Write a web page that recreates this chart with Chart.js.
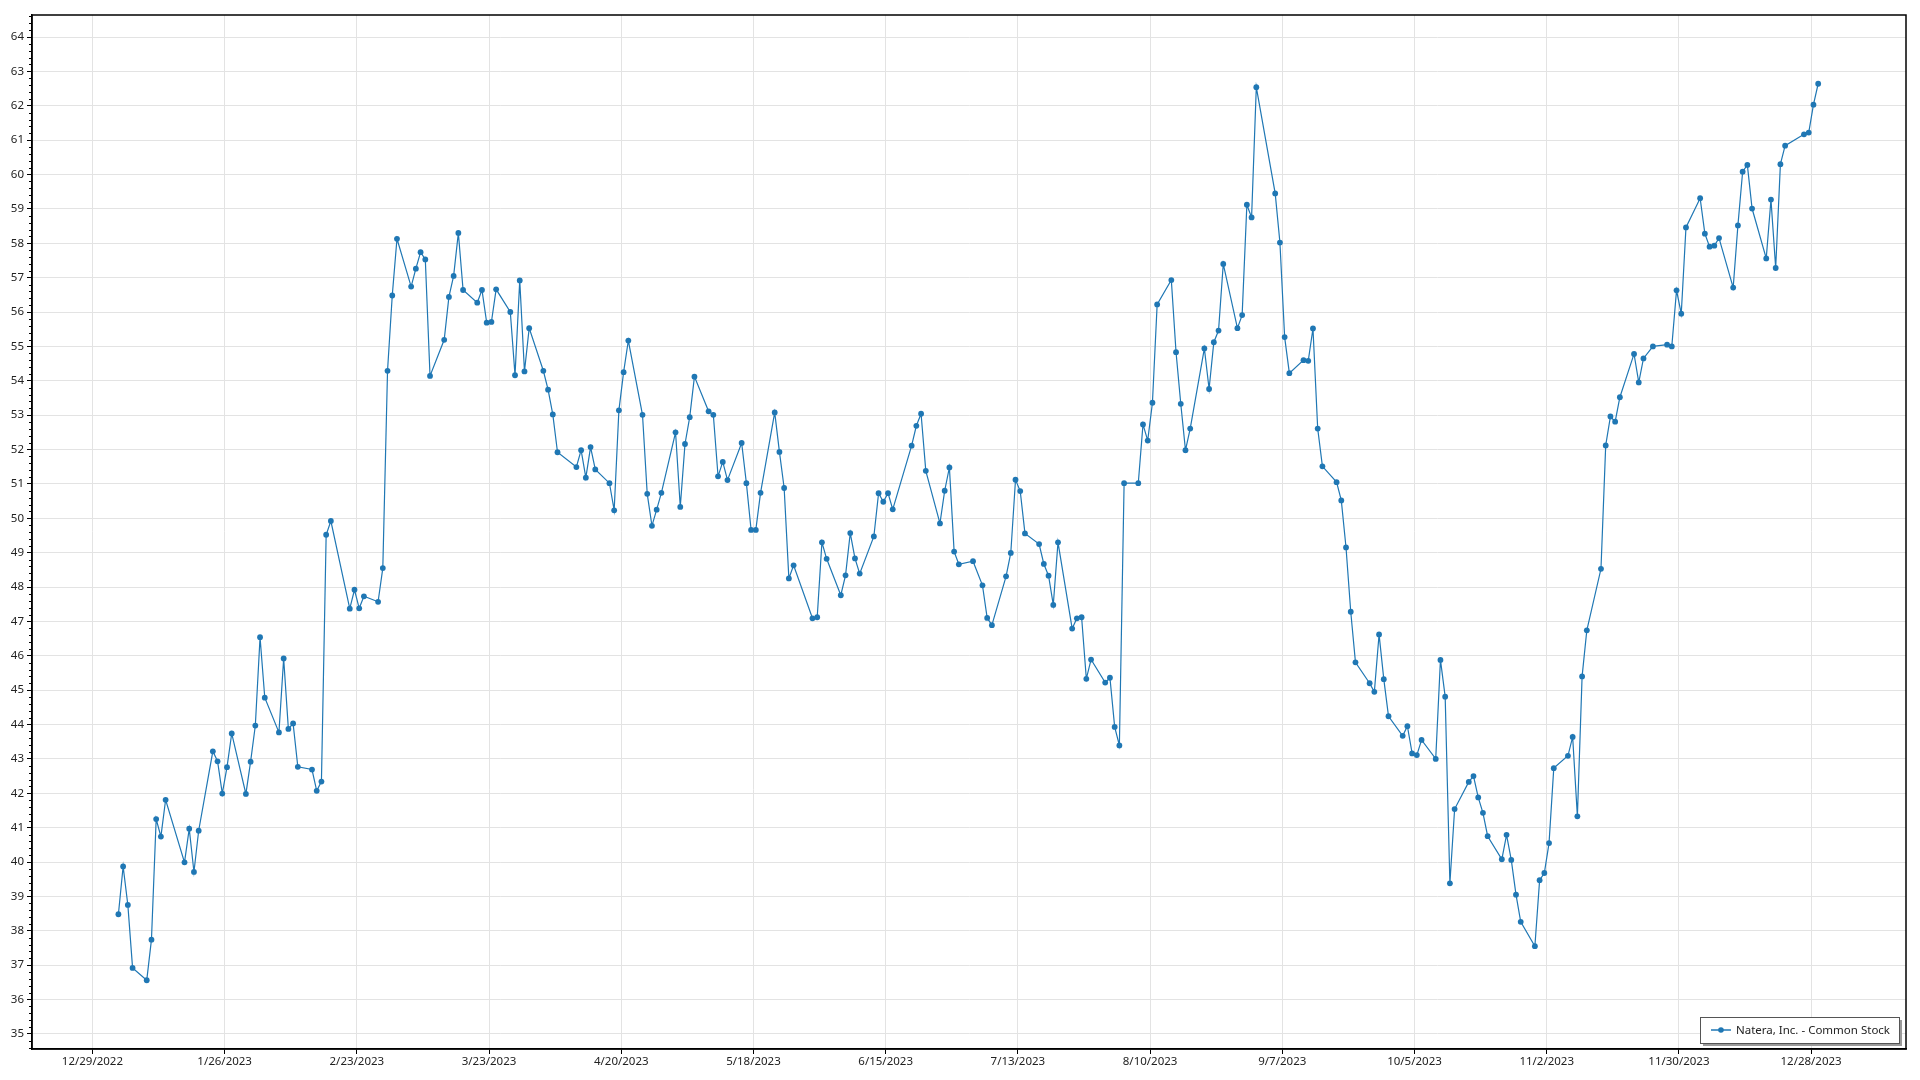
<!DOCTYPE html>
<html><head><meta charset="utf-8">
<script src="https://cdn.jsdelivr.net/npm/chart.js@4.4.1/dist/chart.umd.min.js"></script>
<style>html,body{margin:0;padding:0;background:#fff;overflow:hidden}canvas{display:block}</style>
</head><body>
<canvas id="c" width="1920" height="1080"></canvas>
<script>
const seriesName = "Natera, Inc. - Common Stock";

const dates = [
"2023-01-03","2023-01-04","2023-01-05","2023-01-06","2023-01-09","2023-01-10","2023-01-11","2023-01-12","2023-01-13","2023-01-17","2023-01-18","2023-01-19","2023-01-20","2023-01-23","2023-01-24","2023-01-25","2023-01-26","2023-01-27","2023-01-30","2023-01-31",
"2023-02-01","2023-02-02","2023-02-03","2023-02-06","2023-02-07","2023-02-08","2023-02-09","2023-02-10","2023-02-13","2023-02-14","2023-02-15","2023-02-16","2023-02-17","2023-02-21","2023-02-22","2023-02-23","2023-02-24","2023-02-27","2023-02-28",
"2023-03-01","2023-03-02","2023-03-03","2023-03-06","2023-03-07","2023-03-08","2023-03-09","2023-03-10","2023-03-13","2023-03-14","2023-03-15","2023-03-16","2023-03-17","2023-03-20","2023-03-21","2023-03-22","2023-03-23","2023-03-24","2023-03-27","2023-03-28","2023-03-29","2023-03-30","2023-03-31",
"2023-04-03","2023-04-04","2023-04-05","2023-04-06","2023-04-10","2023-04-11","2023-04-12","2023-04-13","2023-04-14","2023-04-17","2023-04-18","2023-04-19","2023-04-20","2023-04-21","2023-04-24","2023-04-25","2023-04-26","2023-04-27","2023-04-28",
"2023-05-01","2023-05-02","2023-05-03","2023-05-04","2023-05-05","2023-05-08","2023-05-09","2023-05-10","2023-05-11","2023-05-12","2023-05-15","2023-05-16","2023-05-17","2023-05-18","2023-05-19","2023-05-22","2023-05-23","2023-05-24","2023-05-25","2023-05-26","2023-05-30","2023-05-31",
"2023-06-01","2023-06-02","2023-06-05","2023-06-06","2023-06-07","2023-06-08","2023-06-09","2023-06-12","2023-06-13","2023-06-14","2023-06-15","2023-06-16","2023-06-20","2023-06-21","2023-06-22","2023-06-23","2023-06-26","2023-06-27","2023-06-28","2023-06-29","2023-06-30",
"2023-07-03","2023-07-05","2023-07-06","2023-07-07","2023-07-10","2023-07-11","2023-07-12","2023-07-13","2023-07-14","2023-07-17","2023-07-18","2023-07-19","2023-07-20","2023-07-21","2023-07-24","2023-07-25","2023-07-26","2023-07-27","2023-07-28","2023-07-31",
"2023-08-01","2023-08-02","2023-08-03","2023-08-04","2023-08-07","2023-08-08","2023-08-09","2023-08-10","2023-08-11","2023-08-14","2023-08-15","2023-08-16","2023-08-17","2023-08-18","2023-08-21","2023-08-22","2023-08-23","2023-08-24","2023-08-25","2023-08-28","2023-08-29","2023-08-30","2023-08-31",
"2023-09-01","2023-09-05","2023-09-06","2023-09-07","2023-09-08","2023-09-11","2023-09-12","2023-09-13","2023-09-14","2023-09-15","2023-09-18","2023-09-19","2023-09-20","2023-09-21","2023-09-22","2023-09-25","2023-09-26","2023-09-27","2023-09-28","2023-09-29",
"2023-10-02","2023-10-03","2023-10-04","2023-10-05","2023-10-06","2023-10-09","2023-10-10","2023-10-11","2023-10-12","2023-10-13","2023-10-16","2023-10-17","2023-10-18","2023-10-19","2023-10-20","2023-10-23","2023-10-24","2023-10-25","2023-10-26","2023-10-27","2023-10-30","2023-10-31",
"2023-11-01","2023-11-02","2023-11-03","2023-11-06","2023-11-07","2023-11-08","2023-11-09","2023-11-10","2023-11-13","2023-11-14","2023-11-15","2023-11-16","2023-11-17","2023-11-20","2023-11-21","2023-11-22","2023-11-24","2023-11-27","2023-11-28","2023-11-29","2023-11-30",
"2023-12-01","2023-12-04","2023-12-05","2023-12-06","2023-12-07","2023-12-08","2023-12-11","2023-12-12","2023-12-13","2023-12-14","2023-12-15","2023-12-18","2023-12-19","2023-12-20","2023-12-21","2023-12-22","2023-12-26","2023-12-27","2023-12-28","2023-12-29"
];

const closePrices = [
38.48,39.87,38.75,36.92,36.56,37.74,41.25,40.74,41.81,39.99,40.97,39.71,40.91,43.22,42.93,41.99,42.76,43.74,41.98,42.92,
43.97,46.54,44.78,43.77,45.92,43.87,44.03,42.77,42.69,42.07,42.34,49.52,49.92,47.37,47.92,47.38,47.73,47.57,48.55,
54.29,56.48,58.13,56.74,57.26,57.74,57.53,54.14,55.19,56.44,57.05,58.30,56.64,56.27,56.64,55.69,55.71,56.66,56.00,54.16,56.92,54.27,55.53,
54.29,53.74,53.02,51.92,51.49,51.98,51.18,52.07,51.42,51.02,50.23,53.14,54.25,55.17,53.01,50.71,49.78,50.25,50.74,
52.50,50.33,52.16,52.94,54.12,53.11,53.01,51.22,51.64,51.11,52.19,51.02,49.66,49.66,50.74,53.08,51.93,50.88,48.25,48.63,47.09,47.12,
49.30,48.82,47.76,48.34,49.57,48.83,48.39,49.47,50.73,50.48,50.73,50.26,52.11,52.69,53.04,51.38,49.85,50.80,51.48,49.03,48.66,
48.75,48.05,47.10,46.89,48.31,48.99,51.12,50.79,49.56,49.25,48.67,48.33,47.48,49.30,46.79,47.09,47.12,45.33,45.89,45.22,
45.36,43.93,43.39,51.02,51.02,52.73,52.26,53.36,56.22,56.93,54.83,53.33,51.98,52.61,54.94,53.76,55.12,55.46,57.40,55.53,55.91,59.12,58.75,
62.54,59.45,58.02,55.27,54.22,54.60,54.58,55.52,52.61,51.51,51.05,50.52,49.15,47.28,45.81,45.20,44.95,46.62,45.32,44.24,
43.67,43.95,43.16,43.11,43.55,43.00,45.88,44.81,39.38,41.54,42.33,42.50,41.88,41.43,40.75,40.08,40.79,40.06,39.05,38.26,37.55,39.47,
39.68,40.55,42.73,43.09,43.64,41.33,45.40,46.74,48.53,52.12,52.96,52.81,53.52,54.78,53.95,54.65,55.00,55.05,55.00,56.63,55.95,
58.46,59.31,58.28,57.90,57.93,58.15,56.71,58.52,60.08,60.28,59.01,57.56,59.27,57.28,60.30,60.84,61.17,61.22,62.03,62.64
];

const xTickLabels = ["12/29/2022","1/26/2023","2/23/2023","3/23/2023","4/20/2023","5/18/2023","6/15/2023","7/13/2023","8/10/2023","9/7/2023","10/5/2023","11/2/2023","11/30/2023","12/28/2023"];
const yTickValues = [35,36,37,38,39,40,41,42,43,44,45,46,47,48,49,50,51,52,53,54,55,56,57,58,59,60,61,62,63,64];

const DAY = 86400000;
function parseISO(s){const [y,m,d]=s.split('-').map(Number);return Date.UTC(y,m-1,d,12);}
function parseUS(s){const [m,d,y]=s.split('/').map(Number);return Date.UTC(y,m-1,d);}
const points = dates.map((d,i)=>({x:parseISO(d), y:closePrices[i]}));
const xTicks = xTickLabels.map(parseUS);
const xMin = points[0].x - 18.3*DAY;
const xMax = points[points.length-1].x + 18.6*DAY;
const yMin = Math.min(...closePrices) - 2;
const yMax = Math.max(...closePrices) + 2;

const FONT = {family:'"Noto Sans", "Open Sans", sans-serif', size:11.5};
const LINE_COLOR = '#1f77b4';

const framePlugin = {
  id:'frame',
  afterDraw(chart){
    const {ctx, chartArea:a, scales:{y}} = chart;
    ctx.save();
    // minor ticks on y axis
    ctx.strokeStyle = '#000'; ctx.lineWidth = 1;
    ctx.beginPath();
    for (let k = Math.ceil(yMin*5); k <= Math.floor(yMax*5); k++) {
      if (k % 5 === 0) continue;
      const py = Math.round(y.getPixelForValue(k/5)) + 0.5;
      ctx.moveTo(a.left - 3, py); ctx.lineTo(a.left, py);
    }
    ctx.stroke();
    // frame
    ctx.lineWidth = 1.5;
    ctx.strokeRect(a.left, a.top, a.right - a.left, a.bottom - a.top);
    // legend
    ctx.font = `${FONT.size}px ${FONT.family}`;
    const tw = ctx.measureText(seriesName).width;
    const h = 26, w = tw + 45;
    const bx = a.right - 7 - w, by = a.bottom - 6 - h;
    ctx.fillStyle = '#9a9a9a';
    ctx.fillRect(bx + 3, by + 3, w, h);
    ctx.fillStyle = '#fff';
    ctx.fillRect(bx, by, w, h);
    ctx.strokeStyle = '#555'; ctx.lineWidth = 1;
    ctx.strokeRect(Math.round(bx)+0.5, Math.round(by)+0.5, Math.round(w), h);
    const cy = by + h/2;
    ctx.strokeStyle = LINE_COLOR; ctx.lineWidth = 1.5;
    ctx.beginPath(); ctx.moveTo(bx + 11, cy); ctx.lineTo(bx + 31, cy); ctx.stroke();
    ctx.fillStyle = LINE_COLOR;
    ctx.beginPath(); ctx.arc(bx + 21, cy, 2.8, 0, Math.PI*2); ctx.fill();
    ctx.fillStyle = '#222'; ctx.textBaseline = 'middle'; ctx.textAlign = 'left';
    ctx.fillText(seriesName, bx + 36, cy + 0.5);
    ctx.restore();
  }
};

new Chart(document.getElementById('c'), {
  type:'line',
  data:{datasets:[{
    label: seriesName,
    data: points,
    borderColor: LINE_COLOR,
    backgroundColor: LINE_COLOR,
    pointBackgroundColor: LINE_COLOR,
    pointBorderWidth: 0,
    pointRadius: 2.9,
    borderWidth: 1.2,
    tension: 0,
    fill: false
  }]},
  options:{
    responsive:false,
    devicePixelRatio:1,
    animation:false,
    events:[],
    layout:{padding:{top:15,right:14,left:0,bottom:0}},
    plugins:{legend:{display:false},tooltip:{enabled:false}},
    scales:{
      x:{
        type:'linear', min:xMin, max:xMax,
        afterBuildTicks(scale){ scale.ticks = xTicks.map(v=>({value:v})); },
        afterFit(scale){ scale.height = 31; },
        grid:{color:'#e3e3e3', lineWidth:1, tickLength:5, tickColor:'#000', drawTicks:true},
        border:{color:'#000', width:1.5},
        ticks:{autoSkip:false, maxRotation:0, padding:1, color:'#222', font:FONT,
          callback:(v,i)=>xTickLabels[i]}
      },
      y:{
        type:'linear', min:yMin, max:yMax,
        afterBuildTicks(scale){ scale.ticks = yTickValues.map(v=>({value:v})); },
        afterFit(scale){ scale.width = 32; },
        grid:{color:'#e3e3e3', lineWidth:1, tickLength:5, tickColor:'#000', drawTicks:true},
        border:{color:'#000', width:1.5},
        ticks:{autoSkip:false, padding:3, color:'#222', font:FONT,
          callback:(v,i)=>String(yTickValues[i])}
      }
    }
  },
  plugins:[framePlugin]
});
</script>
</body></html>
